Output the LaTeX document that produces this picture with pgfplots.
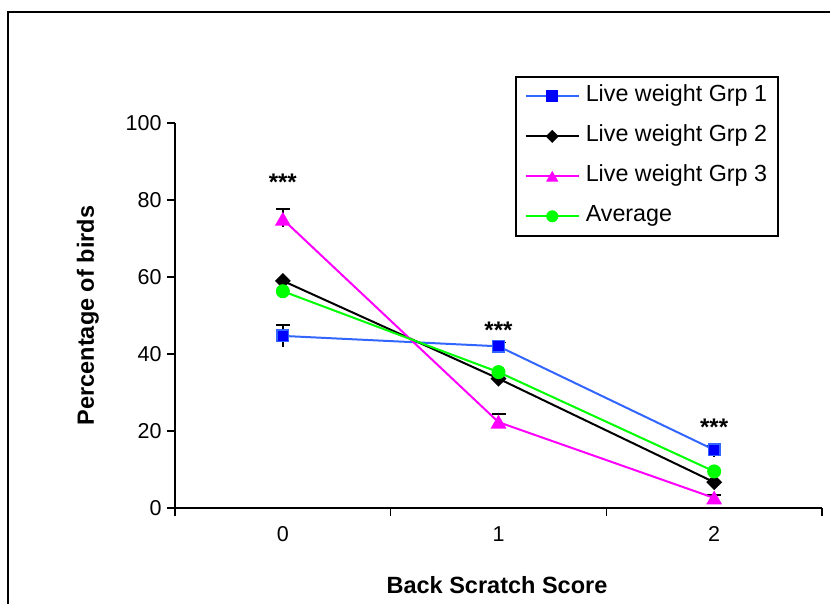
\documentclass[border=0pt]{standalone}
\usepackage{pgfplots}
\pgfplotsset{compat=1.18}
\usepackage{fontspec}
\setmainfont{Liberation Sans}
\definecolor{lwblue}{HTML}{3366FF}
\definecolor{lwmag}{HTML}{FF00FF}
\definecolor{lwgreen}{HTML}{00FF00}
\begin{document}
\begin{tikzpicture}[x=1pt,y=1pt]
\draw[line width=2pt] (8,-20) -- (8,591) -- (850,591);
\begin{axis}[
  at={(175pt,95pt)}, anchor=south west,
  scale only axis, width=647pt, height=385pt,
  xmin=-0.5, xmax=2.5, ymin=0, ymax=100,
  axis x line*=bottom, axis y line*=left,
  axis line style={-, line width=1.6pt},
  xtick={-0.5,0.5,1.5,2.5}, xticklabels={},
  extra x ticks={0,1,2}, extra x tick labels={0,1,2},
  extra x tick style={tick style={draw=none}},
  ytick={0,20,40,60,80,100},
  tick align=outside,
  major tick length=8pt,
  tick style={black, line width=1.6pt},
  tick label style={font=\fontsize{21.5}{25}\selectfont},
  /pgf/number format/assume math mode=true,
  xticklabel style={yshift=-7pt},
  yticklabel style={xshift=-2pt},
  xlabel={Back Scratch Score},
  ylabel={Percentage of birds},
  label style={font=\fontsize{23.5}{27}\selectfont\bfseries},
  xlabel style={at={(axis description cs:0.4977,-0.2)}, anchor=center},
  ylabel style={at={(axis description cs:-0.1345,0.5)}, anchor=center},
  clip=false,
  legend style={at={(axis description cs:0.5255,1.122)}, anchor=north west,
    draw=black, line width=1.5pt, fill=white,
    font=\fontsize{23.3}{27}\selectfont,
    inner xsep=9pt, inner ysep=7pt,
    row sep=15pt, column sep=4pt,
    nodes={text height=16pt, text depth=5pt, inner sep=2pt},
    cells={anchor=west}},
  legend image code/.code={
    \draw[#1] (0pt,0pt) -- (53pt,0pt);
    \draw[#1, draw opacity=0] plot coordinates {(26.5pt,0pt)};
  },
]
% error bars (plus, with caps)
\addplot[forget plot, only marks, mark=none,
  error bars/.cd, y dir=plus, y explicit, error mark=-,
  error bar style={draw=black, solid, line width=1.6pt},
  error mark options={draw=black, solid, rotate=90, mark size=7pt, line width=1.6pt}]
  coordinates {(0,44.7) +- (0,2.8) (1,42.0) +- (0,1.0) (2,15.1) +- (0,1.0)
               (0,75.0) +- (0,2.7) (1,22.3) +- (0,2.1) (2,2.6) +- (0,0.8)};
% error bars (minus, no caps)
\addplot[forget plot, only marks, mark=none,
  error bars/.cd, y dir=minus, y explicit, error mark=none,
  error bar style={draw=black, solid, line width=1.6pt}]
  coordinates {(0,44.7) +- (0,2.8) (1,42.0) +- (0,1.8) (2,15.1) +- (0,1.8)
               (0,75.0) +- (0,2.0) (1,22.3) +- (0,1.0) (2,2.6) +- (0,0.5)};
\addplot[lwblue, line width=2pt, mark=square*,
  mark options={solid, fill=blue, draw=lwblue, mark size=5.8pt, line width=1.3pt}]
  coordinates {(0,44.7) (1,42.0) (2,15.1)};
\addlegendentry{Live weight Grp 1}
\addplot[black, line width=2pt, mark=square*,
  mark options={solid, fill=black, rotate=45, mark size=4.6pt}]
  coordinates {(0,59.0) (1,33.6) (2,6.7)};
\addlegendentry{Live weight Grp 2}
\addplot[lwmag, line width=2pt, mark=triangle*,
  mark options={solid, fill=lwmag, mark size=7.2pt, yshift=-1.8pt}]
  coordinates {(0,75.0) (1,22.3) (2,2.6)};
\addlegendentry{Live weight Grp 3}
\addplot[lwgreen, line width=2pt, mark=*,
  mark options={solid, fill=lwgreen, mark size=6pt}]
  coordinates {(0,56.3) (1,35.3) (2,9.5)};
\addlegendentry{Average}
\node[anchor=base, font=\fontsize{24}{28}\selectfont\bfseries] at (axis cs:0,82.5) {***};
\node[anchor=base, font=\fontsize{24}{28}\selectfont\bfseries] at (axis cs:1,44.0) {***};
\node[anchor=base, font=\fontsize{24}{28}\selectfont\bfseries] at (axis cs:2,18.8) {***};
\end{axis}
\pgfresetboundingbox
\useasboundingbox (0,0) rectangle (830,603);
\end{tikzpicture}
\end{document}
